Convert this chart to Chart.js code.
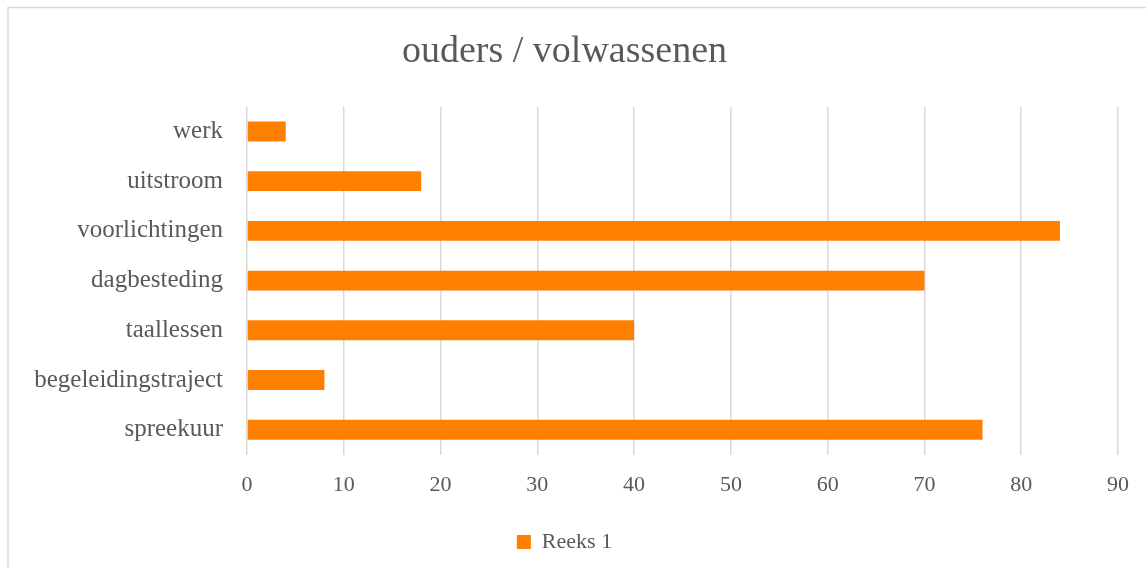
<!DOCTYPE html>
<html lang="nl">
<head>
  <meta charset="UTF-8"/>
  <title>ouders / volwassenen</title>
  <script src="https://cdn.jsdelivr.net/npm/chart.js"></script>
  <style>
    html, body { margin: 0; padding: 0; background: #fff; }
    .wrap { width: 1146px; height: 568px; position: relative; }
  </style>
</head>
<body>
  <div class="wrap"><canvas id="chart"></canvas></div>
  <script>
    const categories = ['werk', 'uitstroom', 'voorlichtingen', 'dagbesteding', 'taallessen', 'begeleidingstraject', 'spreekuur'];
    const reeks1 = [4, 18, 84, 70, 40, 8, 76];
    const seriesName = 'Reeks 1';
    const xMin = 0, xMax = 90, xStep = 10;

    const FONT = "'Liberation Serif', serif";
    const GREY = '#595959';

    // light frame around the chart, as in the original export
    const frame = {
      id: 'frame',
      beforeDraw(chart) {
        const ctx = chart.ctx;
        ctx.save();
        ctx.strokeStyle = '#d9d9d9';
        ctx.lineWidth = 1.5;
        ctx.strokeRect(8, 7.5, chart.width + 20, chart.height + 20);
        ctx.restore();
      }
    };

    new Chart(document.getElementById('chart'), {
      type: 'bar',
      data: {
        labels: categories,
        datasets: [{
          label: seriesName,
          data: reeks1,
          backgroundColor: '#ff7f00',
          categoryPercentage: 0.8,
          barPercentage: 0.5
        }]
      },
      options: {
        indexAxis: 'y',
        responsive: true,
        maintainAspectRatio: false,
        animation: false,
        layout: { padding: { left: 8, right: 25, top: 0, bottom: 5 } },
        plugins: {
          title: {
            display: true,
            text: 'ouders / volwassenen',
            color: GREY,
            font: { family: FONT, size: 38, weight: 'normal' },
            padding: { top: 29, bottom: 32 }
          },
          legend: {
            position: 'bottom',
            labels: {
              color: GREY,
              font: { family: FONT, size: 22 },
              boxWidth: 14,
              boxHeight: 14,
              padding: 16
            }
          },
          tooltip: { enabled: false }
        },
        scales: {
          x: {
            min: xMin,
            max: xMax,
            ticks: { stepSize: xStep, color: GREY, font: { family: FONT, size: 22 }, padding: 17 },
            grid: { color: '#d9d9d9', lineWidth: 1.5, drawTicks: false },
            border: { display: false }
          },
          y: {
            ticks: { color: GREY, font: { family: FONT, size: 25 }, padding: 16 },
            grid: { display: false },
            border: { display: false },
            afterFit(scale) { scale.width = 239; }
          }
        }
      },
      plugins: [frame]
    });
  </script>
</body>
</html>
